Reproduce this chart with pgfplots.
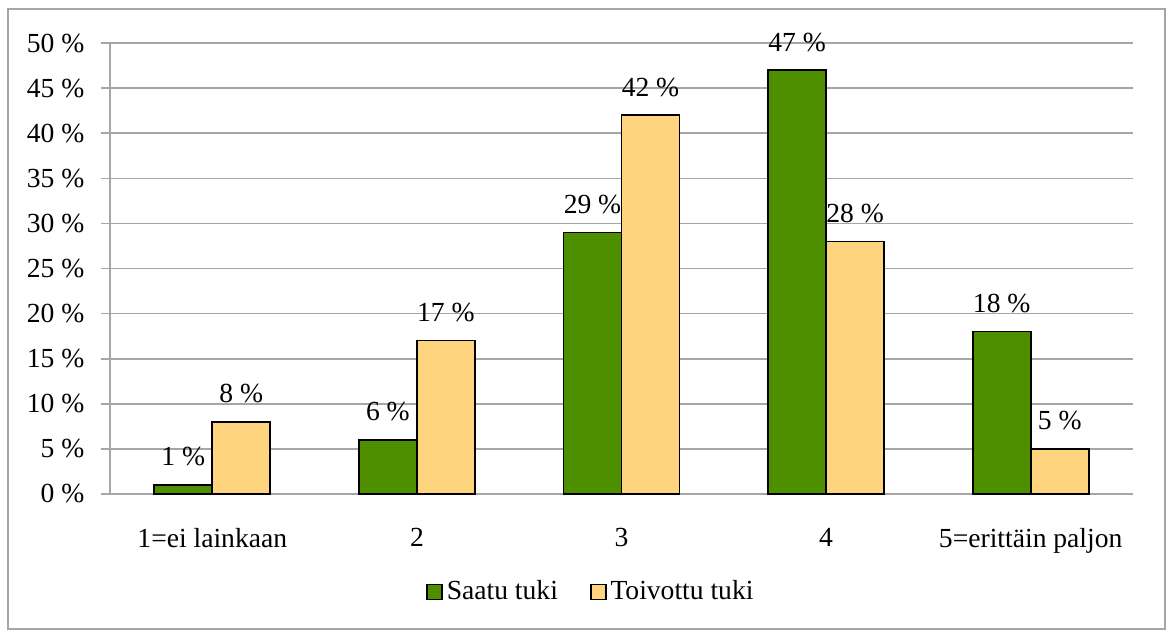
\documentclass[border=0pt]{standalone}
\usepackage{pgfplots}
\pgfplotsset{compat=1.18}
\usepackage{fontspec}
\setmainfont{Liberation Serif}

\definecolor{saatu}{HTML}{4E8F00}
\definecolor{toivottu}{HTML}{FFD47F}
\definecolor{gridgray}{HTML}{A6A6A6}

\begin{document}
\begin{tikzpicture}
  \fontsize{13.8}{16}\selectfont

  % outer frame and page size (1 px = 0.5 pt)
  \useasboundingbox (-55pt,-69pt) rectangle (529pt,247pt);
  \draw[gridgray, line width=1pt] (-51pt,-67.5pt) rectangle (527.5pt,242.5pt);

  \begin{axis}[
    at={(0pt,0pt)}, anchor=south west,
    scale only axis,
    width=511.5pt, height=225.5pt,
    ybar=0pt, bar width=29pt,
    xmin=-0.5, xmax=4.5,
    ymin=0, ymax=50,
    axis lines=left,
    axis line style={-, gridgray, line width=0.8pt},
    xtick={0,1,2,3,4},
    xticklabels={1=ei lainkaan,2,3,4,5=erittäin paljon},
    xtick style={draw=none},
    minor xtick={-0.5,0.5,1.5,2.5,3.5,4.5},
    minor tick length=4pt,
    minor x tick style={gridgray, line width=0.8pt},
    ytick={0,5,...,50},
    yticklabels={0 \%,5 \%,10 \%,15 \%,20 \%,25 \%,30 \%,35 \%,40 \%,45 \%,50 \%},
    major tick length=4.5pt,
    tick align=outside,
    y tick style={gridgray, line width=0.8pt},
    ymajorgrids,
    grid style={gridgray, line width=0.8pt},
    xticklabel style={yshift=-8pt},
    yticklabel style={xshift=-3.5pt},
    /pgf/number format/assume math mode=true,
    nodes near coords={\pgfmathprintnumber{\pgfplotspointmeta}~\%},
    every node near coord/.append style={anchor=center, yshift=14pt, text=black},
    legend columns=2,
    legend style={draw=none, fill=none, at={(0.471,-0.217)}, anchor=center,
      /tikz/every even column/.append style={column sep=14pt}},
    legend image code/.code={\draw[#1] (0pt,-3.75pt) rectangle (7.5pt,3.75pt);},
  ]
    \addplot[fill=saatu, draw=black, line width=0.8pt]
      coordinates {(0,1) (1,6) (2,29) (3,47) (4,18)};
    \addplot[fill=toivottu, draw=black, line width=0.8pt]
      coordinates {(0,8) (1,17) (2,42) (3,28) (4,5)};
    \legend{Saatu tuki, Toivottu tuki}
  \end{axis}
\end{tikzpicture}
\end{document}
